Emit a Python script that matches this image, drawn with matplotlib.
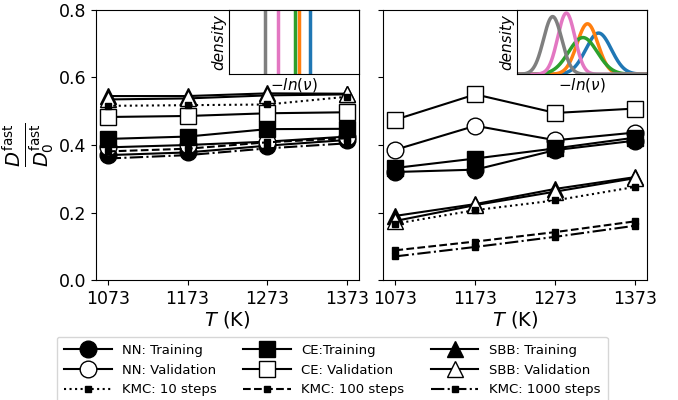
# Normalised fast diffusivity vs temperature, two panels with inset
# rate distributions.

import numpy as np
import matplotlib.pyplot as plt
from matplotlib.lines import Line2D

TEMPS = [1073, 1173, 1273, 1373]

# left panel (narrow / delta rate distributions)
LEFT = {
    "nn_train":  [0.370, 0.378, 0.398, 0.415],
    "nn_val":    [0.393, 0.400, 0.410, 0.425],
    "ce_train":  [0.418, 0.425, 0.447, 0.448],
    "ce_val":    [0.483, 0.486, 0.494, 0.497],
    "sbb_train": [0.545, 0.545, 0.553, 0.552],
    "sbb_val":   [0.535, 0.538, 0.547, 0.550],
    "kmc10":     [0.516, 0.518, 0.520, 0.543],
    "kmc100":    [0.381, 0.389, 0.408, 0.420],
    "kmc1000":   [0.360, 0.370, 0.390, 0.405],
}

# right panel (broad rate distributions)
RIGHT = {
    "nn_train":  [0.320, 0.327, 0.385, 0.413],
    "nn_val":    [0.386, 0.457, 0.414, 0.437],
    "ce_train":  [0.332, 0.360, 0.390, 0.422],
    "ce_val":    [0.475, 0.550, 0.495, 0.508],
    "sbb_train": [0.190, 0.225, 0.270, 0.305],
    "sbb_val":   [0.175, 0.222, 0.262, 0.302],
    "kmc10":     [0.167, 0.207, 0.236, 0.276],
    "kmc100":    [0.088, 0.114, 0.142, 0.174],
    "kmc1000":   [0.070, 0.098, 0.128, 0.161],
}

# inset distributions: colour, mean, std (x in arbitrary units 0..1)
DIST_COLORS = ["tab:blue", "tab:orange", "tab:green", "tab:pink", "tab:gray"]
DIST_MEANS = [0.625, 0.540, 0.505, 0.378, 0.273]
DIST_STDS = [0.098, 0.080, 0.110, 0.066, 0.070]

LABELS = {
    "nn_train": "NN: Training", "nn_val": "NN: Validation", "kmc10": "KMC: 10 steps",
    "ce_train": "CE:Training", "ce_val": "CE: Validation", "kmc100": "KMC: 100 steps",
    "sbb_train": "SBB: Training", "sbb_val": "SBB: Validation", "kmc1000": "KMC: 1000 steps",
}

STYLES = {
    "nn_train":  dict(marker="o", ls="-", mfc="black", ms=12),
    "nn_val":    dict(marker="o", ls="-", mfc="white", ms=12),
    "ce_train":  dict(marker="s", ls="-", mfc="black", ms=12),
    "ce_val":    dict(marker="s", ls="-", mfc="white", ms=12),
    "sbb_train": dict(marker="^", ls="-", mfc="black", ms=12),
    "sbb_val":   dict(marker="^", ls="-", mfc="white", ms=12),
    "kmc10":     dict(marker="s", ls=":", mfc="black", ms=5),
    "kmc100":    dict(marker="s", ls="--", mfc="black", ms=5),
    "kmc1000":   dict(marker="s", ls="-.", mfc="black", ms=5),
}

ORDER = ["nn_train", "nn_val", "ce_train", "ce_val", "sbb_train", "sbb_val",
         "kmc10", "kmc100", "kmc1000"]
LEGEND_ORDER = ["nn_train", "nn_val", "kmc10", "ce_train", "ce_val", "kmc100",
                "sbb_train", "sbb_val", "kmc1000"]


def draw_panel(ax, data):
    for key in ORDER:
        st = STYLES[key]
        ax.plot(TEMPS, data[key], color="black", mec="black", lw=1.5, **st)
    ax.set_xticks(TEMPS)
    ax.set_ylim(0, 0.8)
    ax.set_yticks([0.0, 0.2, 0.4, 0.6, 0.8])
    ax.tick_params(labelsize=12.5)
    ax.set_xlabel("$T$ (K)", fontsize=14, labelpad=1)


def draw_inset(ax, delta):
    ins = ax.inset_axes([0.506, 0.762, 0.494, 0.238])
    if delta:
        for c, m in zip(DIST_COLORS, DIST_MEANS):
            ins.axvline(m, color=c, lw=2.5)
        ins.set_ylim(0, 1)
    else:
        x = np.linspace(0, 1, 400)
        for c, m, s in zip(DIST_COLORS, DIST_MEANS, DIST_STDS):
            y = np.exp(-0.5 * ((x - m) / s) ** 2) / (s * np.sqrt(2 * np.pi))
            ins.plot(x, y, color=c, lw=2.5)
        ins.set_ylim(0, 6.35)
    ins.set_xlim(0, 1)
    ins.set_xticks([])
    ins.set_yticks([])
    ins.set_xlabel(r"$-ln(\nu)$", fontsize=11, labelpad=1)
    ins.set_ylabel("density", fontsize=11, style="italic", labelpad=2)


def main():
    fig = plt.figure(figsize=(6.78, 4.0), dpi=100)
    ax1 = fig.add_axes([0.1412, 0.30, 0.3885, 0.675])
    ax2 = fig.add_axes([0.5655, 0.30, 0.3895, 0.675], sharey=ax1)

    draw_panel(ax1, LEFT)
    draw_panel(ax2, RIGHT)
    ax2.tick_params(labelleft=False)
    ax1.set_ylabel(r"$\frac{D^{\rm fast}}{D_0^{\rm fast}}$", fontsize=20, labelpad=2)

    draw_inset(ax1, True)
    draw_inset(ax2, False)

    handles = []
    for key in LEGEND_ORDER:
        st = STYLES[key]
        handles.append(Line2D([0], [0], color="black", mec="black", lw=1.5,
                              label=LABELS[key], **st))
    fig.legend(handles=handles, ncol=3, loc="upper center",
               bbox_to_anchor=(0.49, 0.158), borderaxespad=0, fontsize=9.5,
               handlelength=3.6, labelspacing=0.5, columnspacing=2.0,
               borderpad=0.55)

    fig.savefig("out.png", dpi=100)


if __name__ == "__main__":
    main()
